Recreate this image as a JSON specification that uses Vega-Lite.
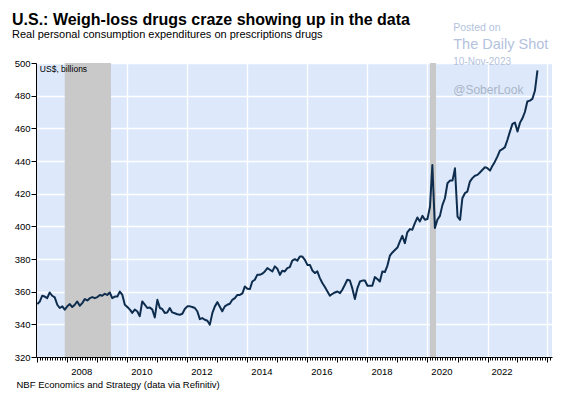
{
  "$schema": "https://vega.github.io/schema/vega-lite/v6.json",
  "width": 516,
  "height": 294,
  "autosize": {"type": "none"},
  "padding": {"left": 36, "top": 63, "right": 12, "bottom": 39},
  "background": "#ffffff",
  "title": {
    "text": "U.S.: Weigh-loss drugs craze showing up in the data",
    "subtitle": "Real personal consumption expenditures on prescriptions drugs",
    "anchor": "start", "frame": "group", "dx": -24, "offset": -17,
    "font": "Liberation Sans", "fontSize": 16, "fontWeight": "bold", "color": "#000000",
    "subtitleFont": "Liberation Sans", "subtitleFontSize": 11, "subtitleColor": "#000000", "subtitlePadding": 1
  },
  "config": {
    "view": {"fill": "#dde9fb", "stroke": null},
    "font": "Liberation Sans"
  },
  "datasets": {
    "pce": [
      {"d":"2007-01-01","v":352.4},{"d":"2007-02-01","v":354},{"d":"2007-03-01","v":357.5},{"d":"2007-04-01","v":357},{"d":"2007-05-01","v":356},{"d":"2007-06-01","v":359.5},{"d":"2007-07-01","v":357.5},{"d":"2007-08-01","v":356.5},{"d":"2007-09-01","v":352},{"d":"2007-10-01","v":350},{"d":"2007-11-01","v":351},{"d":"2007-12-01","v":349},
      {"d":"2008-01-01","v":351},{"d":"2008-02-01","v":352.4},{"d":"2008-03-01","v":350.6},{"d":"2008-04-01","v":352},{"d":"2008-05-01","v":354},{"d":"2008-06-01","v":351.4},{"d":"2008-07-01","v":353},{"d":"2008-08-01","v":355.5},{"d":"2008-09-01","v":354.6},{"d":"2008-10-01","v":356},{"d":"2008-11-01","v":356.7},{"d":"2008-12-01","v":356},
      {"d":"2009-01-01","v":356.7},{"d":"2009-02-01","v":358},{"d":"2009-03-01","v":357.5},{"d":"2009-04-01","v":358.7},{"d":"2009-05-01","v":358},{"d":"2009-06-01","v":359.5},{"d":"2009-07-01","v":356},{"d":"2009-08-01","v":357},{"d":"2009-09-01","v":357},{"d":"2009-10-01","v":360},{"d":"2009-11-01","v":358},{"d":"2009-12-01","v":352},
      {"d":"2010-01-01","v":350.6},{"d":"2010-02-01","v":349},{"d":"2010-03-01","v":347},{"d":"2010-04-01","v":349},{"d":"2010-05-01","v":348},{"d":"2010-06-01","v":345},{"d":"2010-07-01","v":354},{"d":"2010-08-01","v":352},{"d":"2010-09-01","v":350},{"d":"2010-10-01","v":350.3},{"d":"2010-11-01","v":349},{"d":"2010-12-01","v":344.2},
      {"d":"2011-01-01","v":355},{"d":"2011-02-01","v":350},{"d":"2011-03-01","v":349.4},{"d":"2011-04-01","v":347},{"d":"2011-05-01","v":347.3},{"d":"2011-06-01","v":350},{"d":"2011-07-01","v":347.3},{"d":"2011-08-01","v":346.8},{"d":"2011-09-01","v":346.2},{"d":"2011-10-01","v":345.9},{"d":"2011-11-01","v":346.5},{"d":"2011-12-01","v":349.4},
      {"d":"2012-01-01","v":351},{"d":"2012-02-01","v":351},{"d":"2012-03-01","v":350.6},{"d":"2012-04-01","v":350},{"d":"2012-05-01","v":348},{"d":"2012-06-01","v":343.2},{"d":"2012-07-01","v":343.8},{"d":"2012-08-01","v":342.8},{"d":"2012-09-01","v":342.2},{"d":"2012-10-01","v":339.8},{"d":"2012-11-01","v":347},{"d":"2012-12-01","v":351},
      {"d":"2013-01-01","v":353.6},{"d":"2013-02-01","v":350.6},{"d":"2013-03-01","v":348},{"d":"2013-04-01","v":351},{"d":"2013-05-01","v":352},{"d":"2013-06-01","v":352.6},{"d":"2013-07-01","v":355},{"d":"2013-08-01","v":356},{"d":"2013-09-01","v":358},{"d":"2013-10-01","v":358},{"d":"2013-11-01","v":359},{"d":"2013-12-01","v":363.2},
      {"d":"2014-01-01","v":361.8},{"d":"2014-02-01","v":361.6},{"d":"2014-03-01","v":366.2},{"d":"2014-04-01","v":367.3},{"d":"2014-05-01","v":370.3},{"d":"2014-06-01","v":370.3},{"d":"2014-07-01","v":371},{"d":"2014-08-01","v":372.4},{"d":"2014-09-01","v":374.4},{"d":"2014-10-01","v":373.4},{"d":"2014-11-01","v":372.4},{"d":"2014-12-01","v":375.5},
      {"d":"2015-01-01","v":374},{"d":"2015-02-01","v":370.3},{"d":"2015-03-01","v":372.8},{"d":"2015-04-01","v":372.4},{"d":"2015-05-01","v":374.4},{"d":"2015-06-01","v":375},{"d":"2015-07-01","v":379},{"d":"2015-08-01","v":379.9},{"d":"2015-09-01","v":379},{"d":"2015-10-01","v":381.5},{"d":"2015-11-01","v":381.5},{"d":"2015-12-01","v":379.5},
      {"d":"2016-01-01","v":376.4},{"d":"2016-02-01","v":376.4},{"d":"2016-03-01","v":373},{"d":"2016-04-01","v":371.4},{"d":"2016-05-01","v":372.4},{"d":"2016-06-01","v":368.3},{"d":"2016-07-01","v":365.3},{"d":"2016-08-01","v":362.8},{"d":"2016-09-01","v":360.1},{"d":"2016-10-01","v":357.5},{"d":"2016-11-01","v":358.7},{"d":"2016-12-01","v":359.5},
      {"d":"2017-01-01","v":360.1},{"d":"2017-02-01","v":359.1},{"d":"2017-03-01","v":361.2},{"d":"2017-04-01","v":364.2},{"d":"2017-05-01","v":367.3},{"d":"2017-06-01","v":366.8},{"d":"2017-07-01","v":362},{"d":"2017-08-01","v":355.5},{"d":"2017-09-01","v":362.2},{"d":"2017-10-01","v":366.2},{"d":"2017-11-01","v":366.8},{"d":"2017-12-01","v":366.8},
      {"d":"2018-01-01","v":363.6},{"d":"2018-02-01","v":363.6},{"d":"2018-03-01","v":363.6},{"d":"2018-04-01","v":368.9},{"d":"2018-05-01","v":367.7},{"d":"2018-06-01","v":366.2},{"d":"2018-07-01","v":372.4},{"d":"2018-08-01","v":372},{"d":"2018-09-01","v":376},{"d":"2018-10-01","v":382},{"d":"2018-11-01","v":384},{"d":"2018-12-01","v":385.5},
      {"d":"2019-01-01","v":387},{"d":"2019-02-01","v":391},{"d":"2019-03-01","v":394.2},{"d":"2019-04-01","v":389.7},{"d":"2019-05-01","v":396.3},{"d":"2019-06-01","v":398.3},{"d":"2019-07-01","v":397.9},{"d":"2019-08-01","v":402},{"d":"2019-09-01","v":405.4},{"d":"2019-10-01","v":403},{"d":"2019-11-01","v":406.4},{"d":"2019-12-01","v":404},
      {"d":"2020-01-01","v":404.5},{"d":"2020-02-01","v":412},{"d":"2020-03-01","v":437.5},{"d":"2020-04-01","v":399},{"d":"2020-05-01","v":404},{"d":"2020-06-01","v":406.4},{"d":"2020-07-01","v":413},{"d":"2020-08-01","v":417.2},{"d":"2020-09-01","v":426.4},{"d":"2020-10-01","v":428},{"d":"2020-11-01","v":428},{"d":"2020-12-01","v":435.5},
      {"d":"2021-01-01","v":406},{"d":"2021-02-01","v":404},{"d":"2021-03-01","v":417.2},{"d":"2021-04-01","v":420.3},{"d":"2021-05-01","v":421.3},{"d":"2021-06-01","v":427.4},{"d":"2021-07-01","v":429.5},{"d":"2021-08-01","v":431},{"d":"2021-09-01","v":431.5},{"d":"2021-10-01","v":433},{"d":"2021-11-01","v":434.6},{"d":"2021-12-01","v":436.2},
      {"d":"2022-01-01","v":435.6},{"d":"2022-02-01","v":434.1},{"d":"2022-03-01","v":437},{"d":"2022-04-01","v":439.6},{"d":"2022-05-01","v":442.7},{"d":"2022-06-01","v":446.4},{"d":"2022-07-01","v":447.2},{"d":"2022-08-01","v":448.5},{"d":"2022-09-01","v":453},{"d":"2022-10-01","v":458},{"d":"2022-11-01","v":462.7},{"d":"2022-12-01","v":463.5},
      {"d":"2023-01-01","v":458},{"d":"2023-02-01","v":463.5},{"d":"2023-03-01","v":466},{"d":"2023-04-01","v":470},{"d":"2023-05-01","v":476.4},{"d":"2023-06-01","v":477},{"d":"2023-07-01","v":478},{"d":"2023-08-01","v":483},{"d":"2023-09-01","v":495.5}
    ],
    "recessions": [
      {"d": "2007-12-01", "d2": "2009-06-15"},
      {"d": "2020-02-01", "d2": "2020-04-15"}
    ],
    "notes": [
      {"d": "2020-11-10", "v": 521.4, "t": "Posted on"},
      {"d": "2020-11-10", "v": 511, "t": "The Daily Shot"},
      {"d": "2020-11-10", "v": 500.6, "t": "10-Nov-2023"},
      {"d": "2020-11-10", "v": 483.5, "t": "@SoberLook"},
      {"d": "2007-02-01", "v": 496.3, "t": "US$, billions"}
    ]
  },
  "layer": [
    {
      "data": {"name": "recessions"},
      "mark": {"type": "rect", "color": "#c9c9c9"},
      "encoding": {
        "x": {"field": "d", "type": "temporal", "scale": {"type": "utc", "domain": [{"year": 2006, "month": 12, "date": 16, "utc": true}, {"year": 2024, "month": 2, "date": 25, "utc": true}]}},
        "x2": {"field": "d2"}
      }
    },
    {
      "data": {"name": "pce"},
      "mark": {"type": "line", "color": "#0e2d4e", "strokeWidth": 2, "strokeJoin": "round"},
      "encoding": {
        "x": {
          "field": "d", "type": "temporal",
          "scale": {"type": "utc", "domain": [{"year": 2006, "month": 12, "date": 16, "utc": true}, {"year": 2024, "month": 2, "date": 25, "utc": true}]},
          "axis": {
            "title": "NBF Economics and Strategy (data via Refinitiv)",
            "titleAnchor": "start", "titleAlign": "left", "titleBaseline": "middle",
            "titleX": -20, "titleY": 27, "titleFontSize": 9.5, "titleFontWeight": "normal", "titleColor": "#000000", "titleFont": "Liberation Sans",
            "tickCount": {"interval": "month", "step": 1},
            "labelExpr": "utcmonth(datum.value) == 0 && utcyear(datum.value) % 2 == 0 && utcyear(datum.value) < 2024 ? utcFormat(datum.value, '%Y') : ''",
            "labelOverlap": false, "labelFlush": false, "labelBound": false,
            "labelOffset": 14, "labelPadding": 4, "labelFontSize": 9.5, "labelColor": "#000000", "labelFont": "Liberation Sans",
            "tickSize": {"condition": {"test": "utcmonth(datum.value) == 0", "value": 5}, "value": 3},
            "tickColor": "#000000", "tickWidth": 1,
            "domainColor": "#000000", "domainWidth": 1,
            "grid": true, "gridColor": "#ffffff", "gridWidth": 1.3,
            "gridOpacity": {"condition": {"test": "utcmonth(datum.value) == 0 && utcyear(datum.value) % 2 == 0", "value": 1}, "value": 0}
          }
        },
        "y": {
          "field": "v", "type": "quantitative",
          "scale": {"domain": [320, 500], "nice": false, "zero": false},
          "axis": {
            "values": [320, 340, 360, 380, 400, 420, 440, 460, 480, 500],
            "title": null,
            "labelFontSize": 9.5, "labelColor": "#000000", "labelPadding": 1, "labelFont": "Liberation Sans",
            "tickSize": 5, "tickColor": "#000000", "domainColor": "#000000",
            "grid": true, "gridColor": "#ffffff", "gridWidth": 1.3
          }
        }
      }
    },
    {
      "data": {"name": "notes"},
      "mark": {"type": "text", "align": "left", "baseline": "middle", "font": "Liberation Sans"},
      "encoding": {
        "x": {"field": "d", "type": "temporal", "scale": {"type": "utc", "domain": [{"year": 2006, "month": 12, "date": 16, "utc": true}, {"year": 2024, "month": 2, "date": 25, "utc": true}]}},
        "y": {
          "field": "v", "type": "quantitative",
          "scale": {"domain": [320, 500], "nice": false, "zero": false},
          "axis": {
            "values": [320, 340, 360, 380, 400, 420, 440, 460, 480, 500],
            "title": null,
            "labelFontSize": 9.5, "labelColor": "#000000", "labelPadding": 1, "labelFont": "Liberation Sans",
            "tickSize": 5, "tickColor": "#000000", "domainColor": "#000000",
            "grid": true, "gridColor": "#ffffff", "gridWidth": 1.3
          }
        },
        "text": {"field": "t"},
        "size": {"field": "t", "type": "nominal", "legend": null, "scale": {"type": "ordinal", "domain": ["Posted on", "The Daily Shot", "10-Nov-2023", "@SoberLook", "US$, billions"], "range": [10.5, 14.5, 10, 12, 8.5]}},
        "color": {"field": "t", "type": "nominal", "legend": null, "scale": {"type": "ordinal", "domain": ["Posted on", "The Daily Shot", "10-Nov-2023", "@SoberLook", "US$, billions"], "range": ["#b3c2dd", "#b3c2dd", "#b3c2dd", "#a9b5c8", "#000000"]}}
      }
    }
  ]
}
